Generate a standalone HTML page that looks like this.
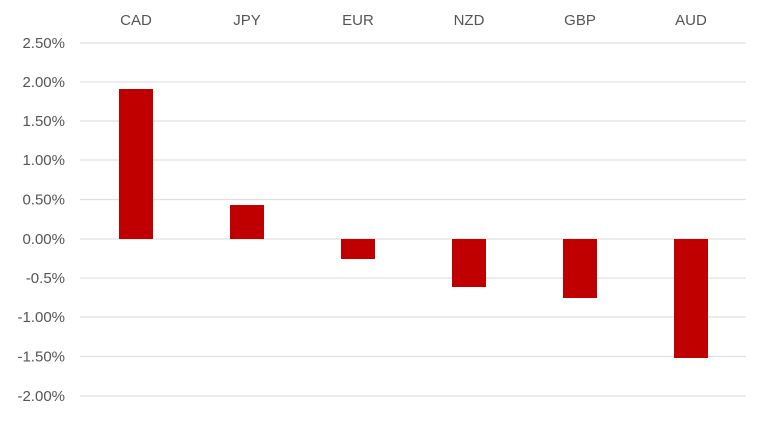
<!DOCTYPE html>
<html><head><style>body{margin:0;background:#fff}</style></head><body>
<svg width="768" height="419" xmlns="http://www.w3.org/2000/svg" font-family="Liberation Sans, sans-serif" font-size="15" fill="#555">
<g stroke="#e0e0e0" stroke-width="1.3">
<line x1="80" x2="746" y1="43" y2="43"/><line x1="80" x2="746" y1="82" y2="82"/><line x1="80" x2="746" y1="121" y2="121"/><line x1="80" x2="746" y1="160" y2="160"/><line x1="80" x2="746" y1="199.5" y2="199.5"/><line x1="80" x2="746" y1="239" y2="239"/><line x1="80" x2="746" y1="278" y2="278"/><line x1="80" x2="746" y1="317" y2="317"/><line x1="80" x2="746" y1="356.5" y2="356.5"/><line x1="80" x2="746" y1="396" y2="396"/>
</g>
<g text-anchor="end">
<text x="65" y="48">2.50%</text><text x="65" y="87">2.00%</text><text x="65" y="126">1.50%</text><text x="65" y="165">1.00%</text><text x="65" y="204.5">0.50%</text><text x="65" y="244">0.00%</text><text x="65" y="283">-0.5%</text><text x="65" y="322">-1.00%</text><text x="65" y="361.5">-1.50%</text><text x="65" y="401">-2.00%</text>
</g>
<g text-anchor="middle">
<text x="136" y="25">CAD</text><text x="247" y="25">JPY</text><text x="358" y="25">EUR</text><text x="469" y="25">NZD</text><text x="580" y="25">GBP</text><text x="691" y="25">AUD</text>
</g>
<g fill="#c00000">
<rect x="119" y="89" width="34" height="150"/>
<rect x="230" y="205" width="34" height="34"/>
<rect x="341" y="239" width="34" height="20"/>
<rect x="452" y="239" width="34" height="48"/>
<rect x="563" y="239" width="34" height="59"/>
<rect x="674" y="239" width="34" height="119"/>
</g>
</svg>
</body></html>
